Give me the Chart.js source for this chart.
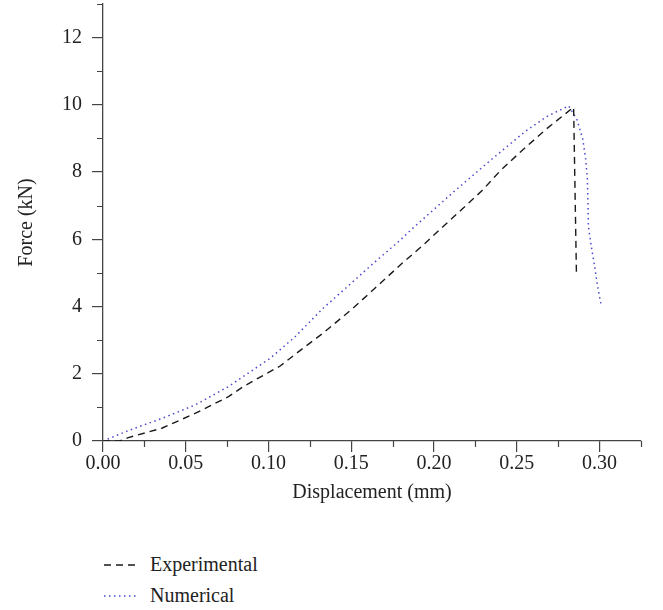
<!DOCTYPE html>
<html>
<head>
<meta charset="utf-8">
<script src="https://cdn.jsdelivr.net/npm/chart.js@4"></script>
<style>
    html, body { margin: 0; padding: 0; background: #fff; }
    #wrap { width: 663px; height: 610px; position: relative; }
    #chart-box { width: 663px; height: 520px; }
    #legend { position: absolute; left: 103px; top: 549px; font-family: "Liberation Serif", "DejaVu Serif", serif; font-size: 20px; color: #222; }
    .legend-item { display: flex; align-items: center; height: 31px; }
    .legend-item svg { margin-right: 10px; }
</style>
</head>
<body>
<div id="wrap">
    <div id="chart-box"><canvas id="force-chart"></canvas></div>
    <div id="legend"></div>
</div>
<script>
// Experimental curve (black dashed)
const experimentalDisp = [0, 0.010, 0.0153, 0.0355, 0.0556, 0.0758, 0.0848, 0.0909, 0.107, 0.119, 0.133, 0.151,
    0.1644, 0.181, 0.193, 0.205, 0.217, 0.229, 0.240, 0.2513, 0.268, 0.2843, 0.2860];
const experimentalForce = [0, 0, 0.10, 0.38, 0.82, 1.32, 1.62, 1.79, 2.23, 2.69, 3.21, 3.95,
    4.55, 5.30, 5.81, 6.36, 6.90, 7.45, 8.04, 8.56, 9.29, 9.93, 4.96];

// Numerical curve (blue dotted)
const numericalDisp = [0, 0.0153, 0.0355, 0.0556, 0.0758, 0.0845, 0.101, 0.116, 0.133, 0.151, 0.1634, 0.1785,
    0.1876, 0.2118, 0.236, 0.2551, 0.268, 0.2813, 0.2864, 0.2898, 0.2916, 0.2926, 0.2930, 0.2932,
    0.2949, 0.2969, 0.2987, 0.3009];
const numericalForce = [0, 0.31, 0.67, 1.07, 1.62, 1.91, 2.46, 3.10, 3.95, 4.74, 5.29, 5.93,
    6.35, 7.41, 8.43, 9.21, 9.65, 9.97, 9.55, 8.98, 8.38, 7.79, 7.00, 6.40,
    5.81, 5.22, 4.62, 4.05];

const seriesLabels = ['Experimental', 'Numerical'];

const X_MIN = 0, X_MAX = 0.325, X_STEP = 0.025;
const Y_MIN = 0, Y_MAX = 13, Y_STEP = 1;

const AXIS_COLOR = '#444';
const TEXT_COLOR = '#222';
const FONT_FAMILY = '"Liberation Serif", "DejaVu Serif", serif';
const FONT_SIZE = 20;

function toPoints(xs, ys) {
    return xs.map((x, i) => ({ x: x, y: ys[i] }));
}

function isMajorX(v) {
    return Math.round(v * 1000) % 50 === 0;
}

function isMajorY(v) {
    return Math.round(v) % 2 === 0;
}

// short minor ticks drawn through the scales
const minorTicks = {
    id: 'minorTicks',
    afterDraw(chart) {
        const ctx = chart.ctx;
        const xs = chart.scales.x;
        const ys = chart.scales.y;
        ctx.save();
        ctx.strokeStyle = AXIS_COLOR;
        ctx.lineWidth = 1.2;
        ctx.beginPath();
        xs.ticks.forEach(t => {
            if (!isMajorX(t.value)) {
                const px = Math.round(xs.getPixelForValue(t.value)) + 0.5;
                ctx.moveTo(px, xs.top);
                ctx.lineTo(px, xs.top + 6);
            }
        });
        ys.ticks.forEach(t => {
            if (!isMajorY(t.value)) {
                const py = Math.round(ys.getPixelForValue(t.value)) + 0.5;
                ctx.moveTo(ys.right, py);
                ctx.lineTo(ys.right - 6, py);
            }
        });
        ctx.stroke();
        ctx.restore();
    }
};

let forceChart = null;

document.addEventListener('DOMContentLoaded', () => {
    const ctx = document.getElementById('force-chart').getContext('2d');
    forceChart = new Chart(ctx, {
        type: 'line',
        data: {
            datasets: [
                {
                    label: seriesLabels[0],
                    data: toPoints(experimentalDisp, experimentalForce),
                    borderColor: '#1a1a1a',
                    borderWidth: 1.4,
                    borderDash: [7, 5],
                    pointRadius: 0,
                    fill: false,
                    tension: 0
                },
                {
                    label: seriesLabels[1],
                    data: toPoints(numericalDisp, numericalForce),
                    borderColor: '#4848cc',
                    borderWidth: 1.5,
                    borderDash: [1.5, 3.5],
                    pointRadius: 0,
                    fill: false,
                    tension: 0
                }
            ]
        },
        options: {
            responsive: true,
            maintainAspectRatio: false,
            animation: false,
            layout: { padding: { top: 4, right: 22, left: 0, bottom: 0 } },
            plugins: {
                legend: { display: false },
                tooltip: { enabled: false }
            },
            scales: {
                x: {
                    type: 'linear',
                    min: X_MIN,
                    max: X_MAX,
                    afterFit: (scale) => { scale.height = 79; },
                    border: { display: true, color: AXIS_COLOR, width: 1.3 },
                    grid: {
                        drawOnChartArea: false,
                        tickLength: 11,
                        lineWidth: 1.2,
                        color: (c) => (c.tick && isMajorX(c.tick.value)) ? AXIS_COLOR : 'rgba(0,0,0,0)'
                    },
                    ticks: {
                        stepSize: X_STEP,
                        autoSkip: false,
                        maxRotation: 0,
                        padding: 0,
                        color: TEXT_COLOR,
                        font: { family: FONT_FAMILY, size: FONT_SIZE },
                        callback: (v) => isMajorX(v) ? v.toFixed(2) : ''
                    },
                    title: {
                        display: true,
                        text: 'Displacement (mm)',
                        color: TEXT_COLOR,
                        font: { family: FONT_FAMILY, size: FONT_SIZE },
                        padding: { top: 0, bottom: 15 }
                    }
                },
                y: {
                    type: 'linear',
                    min: Y_MIN,
                    max: Y_MAX,
                    afterFit: (scale) => {
                        scale.width = 103;
                        scale.paddingTop = 0;
                        scale.paddingBottom = 0;
                    },
                    border: { display: true, color: AXIS_COLOR, width: 1.3 },
                    grid: {
                        drawOnChartArea: false,
                        tickLength: 11,
                        lineWidth: 1.2,
                        color: (c) => (c.tick && isMajorY(c.tick.value)) ? AXIS_COLOR : 'rgba(0,0,0,0)'
                    },
                    ticks: {
                        stepSize: Y_STEP,
                        autoSkip: false,
                        padding: 10,
                        color: TEXT_COLOR,
                        font: { family: FONT_FAMILY, size: FONT_SIZE },
                        callback: (v) => isMajorY(v) ? String(v) : ''
                    },
                    title: {
                        display: true,
                        text: 'Force (kN)',
                        color: TEXT_COLOR,
                        font: { family: FONT_FAMILY, size: FONT_SIZE },
                        padding: { top: 15, bottom: 0 }
                    }
                }
            }
        },
        plugins: [minorTicks]
    });

    buildLegend(forceChart);
});

// legend stacked in two rows below the plot
function buildLegend(chart) {
    const legendDiv = document.getElementById('legend');
    legendDiv.innerHTML = '';
    chart.data.datasets.forEach(ds => {
        const item = document.createElement('div');
        item.className = 'legend-item';
        const svgNS = 'http://www.w3.org/2000/svg';
        const svg = document.createElementNS(svgNS, 'svg');
        svg.setAttribute('width', '37');
        svg.setAttribute('height', '10');
        const line = document.createElementNS(svgNS, 'line');
        line.setAttribute('x1', '1');
        line.setAttribute('x2', '36');
        line.setAttribute('y1', '5');
        line.setAttribute('y2', '5');
        line.setAttribute('stroke', ds.borderColor);
        line.setAttribute('stroke-width', ds.borderWidth);
        line.setAttribute('stroke-dasharray', ds.borderDash.join(' '));
        svg.appendChild(line);
        const label = document.createElement('span');
        label.textContent = ds.label;
        item.appendChild(svg);
        item.appendChild(label);
        legendDiv.appendChild(item);
    });
}
</script>
</body>
</html>
